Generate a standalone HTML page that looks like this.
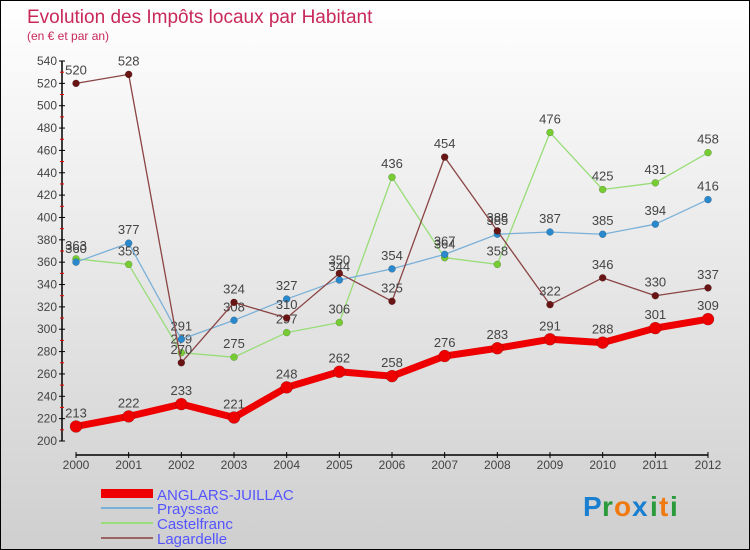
<!DOCTYPE html>
<html><head><meta charset="utf-8"><style>
body{margin:0}
#wrap{width:750px;height:550px;position:relative;box-sizing:border-box;border:1px solid #000;background:linear-gradient(#ffffff,#cfcfcf);font-family:"Liberation Sans",sans-serif;overflow:hidden}
svg text{font-family:"Liberation Sans",sans-serif}
</style></head><body>
<div id="wrap">
<svg id="c" width="750" height="550">
<text x="26" y="22" font-size="19" fill="#c8285a">Evolution des Impôts locaux par Habitant</text>
<text x="26" y="39" font-size="12" fill="#c8285a">(en € et par an)</text>
<g id="axes"></g><g id="series"></g>
<g>
<rect x="100" y="488" width="52" height="9" fill="#e00"/>
<text x="156" y="499" font-size="15" fill="#5555ff">ANGLARS-JUILLAC</text>
<line x1="100" y1="507" x2="152" y2="507" stroke="#7ab0d8" stroke-width="2"/>
<text x="156" y="513" font-size="15" fill="#5555ff">Prayssac</text>
<line x1="100" y1="522" x2="152" y2="522" stroke="#98dd77" stroke-width="2"/>
<text x="156" y="528" font-size="15" fill="#5555ff">Castelfranc</text>
<line x1="100" y1="537" x2="152" y2="537" stroke="#9a6464" stroke-width="2"/>
<text x="156" y="543" font-size="15" fill="#5555ff">Lagardelle</text>
</g>
<g font-size="28" font-weight="bold" font-family="Liberation Sans">
<text x="582" y="515" fill="#1a7fd0">P</text><text x="601" y="515" fill="#2a9a3a">r</text><text x="613" y="515" fill="#f07a10">o</text><text x="631" y="515" fill="#1a7fd0">x</text><text x="649" y="515" fill="#2a9a3a">i</text><text x="658" y="515" fill="#f07a10">t</text><text x="669" y="515" fill="#2a9a3a">i</text>
</g>
</svg>
</div>
<script>
const years=[2000,2001,2002,2003,2004,2005,2006,2007,2008,2009,2010,2011,2012];
const anglars=[213,222,233,221,248,262,258,276,283,291,288,301,309];
const prayssac=[360,377,291,308,327,344,354,367,385,387,385,394,416];
const castelfranc=[363,358,279,275,297,306,436,364,358,476,425,431,458];
const lagardelle=[520,528,270,324,310,350,325,454,388,322,346,330,337];
const yTicks=[200,220,240,260,280,300,320,340,360,380,400,420,440,460,480,500,520,540];
const NS="http://www.w3.org/2000/svg";
const x=i=>75+i*(632/12);
const y=v=>440-(v-200)*(380/340);
function mk(tag,attrs,parent){const e=document.createElementNS(NS,tag);for(const k in attrs)e.setAttribute(k,attrs[k]);parent.appendChild(e);return e;}
const ax=document.getElementById('axes'),se=document.getElementById('series');
let a=mk('line',{x1:61,y1:y(540),x2:61,y2:440,stroke:'#000','stroke-width':1.5},ax);


a=mk('line',{x1:75,y1:454,x2:707,y2:454,stroke:'#000','stroke-width':1.5},ax);


yTicks.forEach(t=>{mk('line',{x1:58,y1:y(t),x2:64,y2:y(t),stroke:'#000'},ax);
 if(t<540)mk('line',{x1:59,y1:y(t+10),x2:63,y2:y(t+10),stroke:'#e00'},ax);
 const tx=mk('text',{x:56,y:y(t)+4,'text-anchor':'end','font-size':12,fill:'#444'},ax);tx.textContent=t;
 
 });
years.forEach((yr,i)=>{mk('line',{x1:x(i),y1:451,x2:x(i),y2:457,stroke:'#000'},ax);
 const tx=mk('text',{x:x(i),y:468,'text-anchor':'middle','font-size':12,fill:'#444'},ax);tx.textContent=yr;
 
 });
function series(vals,col,dot,w,r,name){
 const g=mk('g',{},se);
 
 
 mk('polyline',{points:vals.map((v,i)=>x(i)+','+y(v)).join(' '),fill:'none',stroke:col,'stroke-width':w,'stroke-linejoin':'round'},g);
 vals.forEach((v,i)=>{const c=mk('circle',{cx:x(i),cy:y(v),r:r,fill:dot,stroke:'rgba(0,0,0,0.3)','stroke-width':0.5},g);
  
  
  const t=mk('text',{x:x(i),y:y(v)-9,'text-anchor':'middle','font-size':13,fill:'#444'},g);t.textContent=v;});
}
series(castelfranc,'#98dd77','#77cc33',1.3,3.5,'series-castelfranc');
series(prayssac,'#7ab0d8','#2a88cc',1.3,3.5,'series-prayssac');
series(lagardelle,'#8a4444','#6a1515',1.3,3.5,'series-lagardelle');
series(anglars,'#ee0000','#ee0000',7,6,'series-anglars');
</script>
</body></html>
